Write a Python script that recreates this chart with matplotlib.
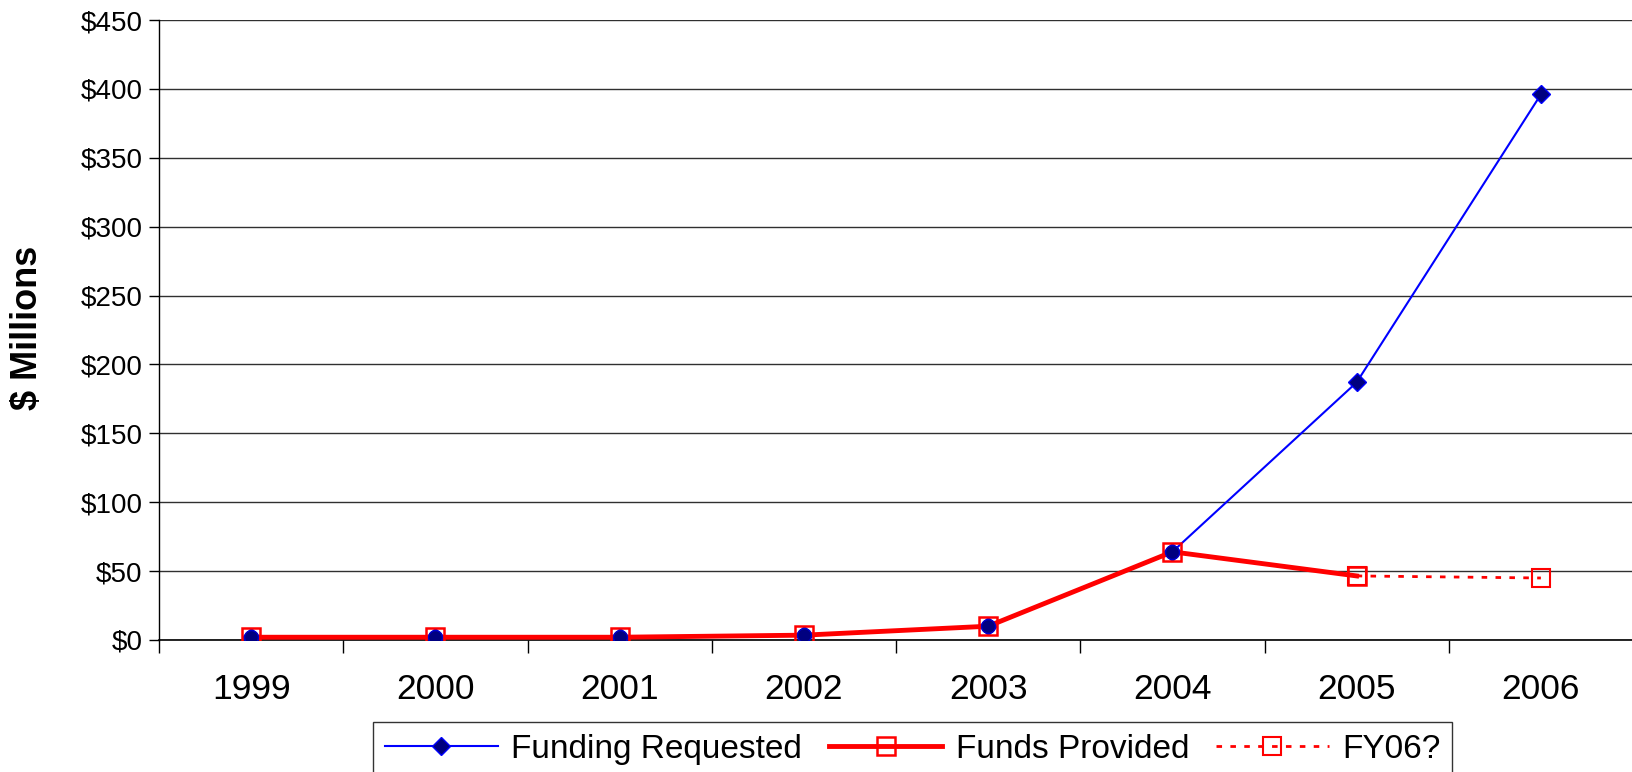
import numpy as np
import matplotlib.pyplot as plt
from matplotlib.ticker import FixedLocator, FuncFormatter

plt.rcParams['font.family'] = ['Liberation Sans', 'DejaVu Sans']

# data ($ millions)
years = ['1999', '2000', '2001', '2002', '2003', '2004', '2005', '2006']
requested = [2, 2, 2, 3.5, 10, 64, 187, 396]
provided = [2, 2, 2, 3.5, 10, 64, 46.5]
fy06_x = [6, 7]
fy06 = [46.5, 45]

fig = plt.figure(figsize=(16.33, 7.72), dpi=100)
ax = fig.add_axes([0.0974, 0.171, 0.9026, 0.803])

x = np.arange(len(years))

# blue line sits under the red one, its markers on top
ax.plot(x, requested, color='#0000ff', lw=1.5, marker='D', markersize=9,
        markerfacecolor='#000080', markeredgecolor='#0000ff', zorder=3,
        label='Funding Requested')
ax.plot(x[:len(provided)], provided, color='#ff0000', lw=3.5, marker='s',
        markersize=13, markerfacecolor='none', markeredgecolor='#ff0000',
        markeredgewidth=1.8, zorder=4, label='Funds Provided')
ax.plot(fy06_x, fy06, color='#ff0000', lw=2, ls=(0, (2, 3)), marker='s',
        markersize=13, markerfacecolor='none', markeredgecolor='#ff0000',
        markeredgewidth=1.5, zorder=4, label='FY06?')
ax.plot(x[:6], requested[:6], ls='none', marker='o', markersize=10,
        markerfacecolor='#000080', markeredgecolor='#0000cc', zorder=5)

ax.set_xlim(-0.5, 7.5)
ax.set_ylim(0, 450)
ax.set_yticks(np.arange(0, 451, 50))
ax.yaxis.set_major_formatter(FuncFormatter(lambda v, p: '$%d' % v))
ax.grid(axis='y', color='#303030', lw=1)
ax.set_axisbelow(True)

ax.set_xticks(x)
ax.set_xticklabels(years)
ax.xaxis.set_minor_locator(FixedLocator(np.arange(-0.5, 7.6, 1)))
ax.tick_params(axis='x', which='major', length=0, pad=24, labelsize=25.5)
ax.tick_params(axis='x', which='minor', length=9, width=1, direction='out')
ax.tick_params(axis='y', length=7, width=1, direction='out', pad=5, labelsize=20)

for s in ['top', 'right']:
    ax.spines[s].set_visible(False)
ax.spines['left'].set_linewidth(1)
ax.spines['bottom'].set_linewidth(1.2)

fig.text(28 / 1633, 0.575, '$ Millions', rotation=90, ha='center', va='center',
         fontsize=26, fontweight='bold')

leg = fig.legend(loc='upper left', bbox_to_anchor=(373 / 1633, 1 - 722 / 772),
                 ncol=3, fontsize=24, frameon=True, fancybox=False,
                 handlelength=3.4, handletextpad=0.4, columnspacing=0.8,
                 borderpad=0.35, borderaxespad=0)
leg.get_frame().set_edgecolor('black')
leg.get_frame().set_linewidth(1)

fig.savefig('out.png', dpi=100)
